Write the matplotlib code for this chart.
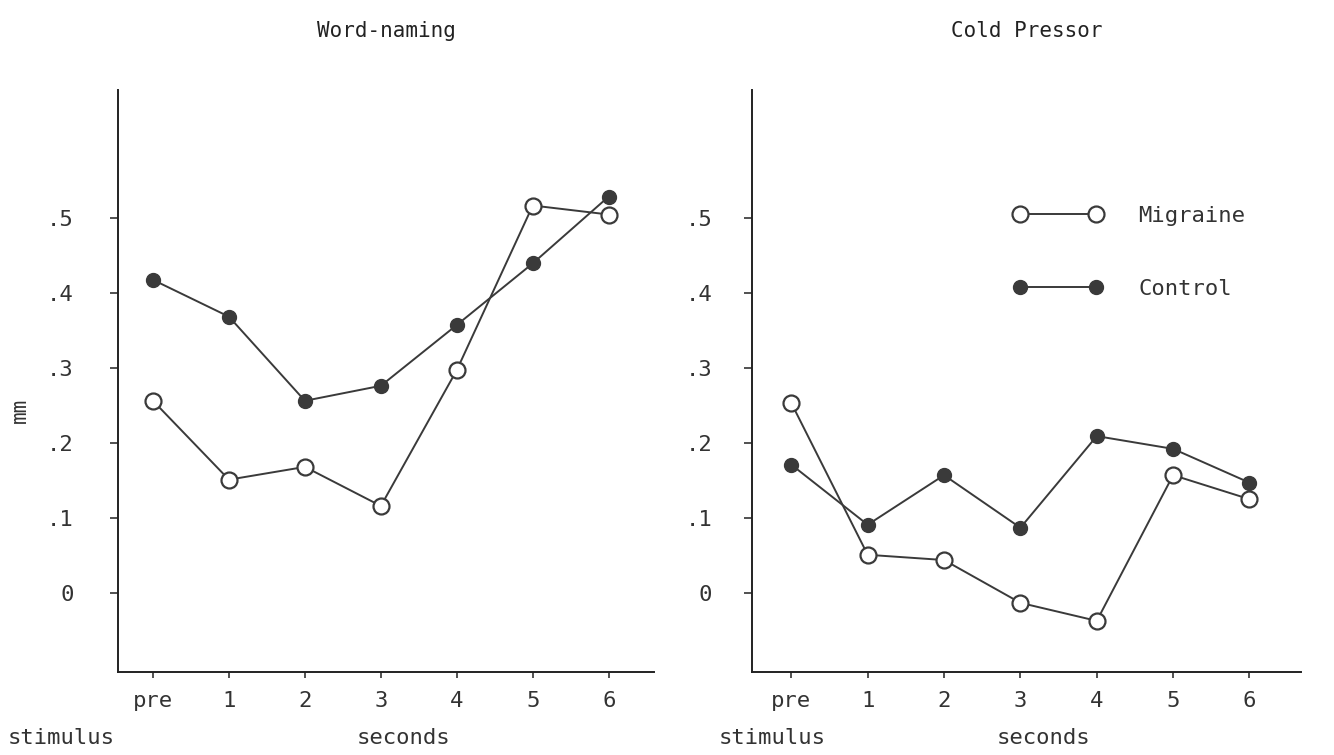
import matplotlib
matplotlib.use('Agg')
import matplotlib.pyplot as plt
from matplotlib.lines import Line2D
from matplotlib.transforms import blended_transform_factory

plt.rcParams['font.family'] = ['DejaVu Sans Mono']

# x positions: pre-stimulus, then seconds 1..6
x_labels = ['pre', '1', '2', '3', '4', '5', '6']
y_ticks = [0, 0.1, 0.2, 0.3, 0.4, 0.5]
y_labels = ['0', '.1', '.2', '.3', '.4', '.5']

# Word-naming
word_migraine = [0.256, 0.151, 0.168, 0.116, 0.297, 0.516, 0.504]
word_control = [0.417, 0.368, 0.256, 0.276, 0.357, 0.439, 0.528]

# Cold Pressor
cold_migraine = [0.253, 0.051, 0.044, -0.013, -0.037, 0.157, 0.125]
cold_control = [0.171, 0.091, 0.157, 0.087, 0.209, 0.192, 0.147]

ink = '#3a3a3a'

fig = plt.figure(figsize=(13.34, 7.55), dpi=100)
ax1 = fig.add_axes([0.0885, 0.110, 0.402, 0.771])
ax2 = fig.add_axes([0.564, 0.110, 0.411, 0.771])


def draw_panel(ax, migraine, control, title, xmin, xmax, ypad, stim_x):
    xs = list(range(len(x_labels)))
    ax.plot(xs, control, '-o', color=ink, lw=1.4, ms=10,
            mfc=ink, mec=ink, label='Control')
    ax.plot(xs, migraine, '-o', color=ink, lw=1.4, ms=11.5,
            mfc='white', mec=ink, mew=1.6, label='Migraine', zorder=3)
    ax.set_xlim(xmin, xmax)
    ax.set_ylim(-0.105, 0.67)
    for s in ['top', 'right']:
        ax.spines[s].set_visible(False)
    for s in ['left', 'bottom']:
        ax.spines[s].set_linewidth(1.4)
        ax.spines[s].set_color('#222222')
    ax.set_xticks(xs)
    ax.set_xticklabels(x_labels, fontsize=16, color='#333333')
    ax.set_yticks(y_ticks)
    ax.set_yticklabels(y_labels, fontsize=16, color='#333333')
    ax.tick_params(axis='y', direction='out', length=6, width=1.2,
                   pad=ypad, colors='#333333')
    ax.tick_params(axis='x', direction='out', length=4, width=1.2,
                   pad=10, colors='#333333')
    ax.set_title(title, fontsize=15, color='#222222', pad=38)
    trans = blended_transform_factory(ax.transData, ax.transAxes)
    ax.text(stim_x, -0.113, 'stimulus', transform=trans, ha='right',
            va='center', fontsize=16, color='#333333')
    ax.text(3.3, -0.113, 'seconds', transform=trans, ha='center',
            va='center', fontsize=16, color='#333333')


draw_panel(ax1, word_migraine, word_control, 'Word-naming',
           -0.46, 6.6, 26, -0.5)
draw_panel(ax2, cold_migraine, cold_control, 'Cold Pressor',
           -0.51, 6.67, 23, 0.45)

ax1.set_ylabel('mm', fontsize=15, color='#333333')
ax1.yaxis.set_label_coords(-0.165, 0.45)

handles = [
    Line2D([0], [0], color=ink, lw=1.4, marker='o', ms=11.5,
           mfc='white', mec=ink, mew=1.6),
    Line2D([0], [0], color=ink, lw=1.4, marker='o', ms=10,
           mfc=ink, mec=ink),
]
ax2.legend(handles, ['Migraine', 'Control'], loc='upper left',
           bbox_to_anchor=(0.44, 0.835), frameon=False, numpoints=2,
           handlelength=4.0, handletextpad=1.6, labelspacing=2.4,
           fontsize=16, labelcolor='#333333')

fig.savefig('out.png', dpi=100)
